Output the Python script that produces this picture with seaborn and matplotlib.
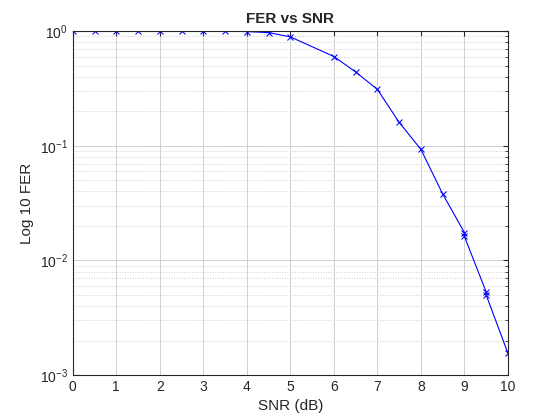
import numpy as np
import pandas as pd
import seaborn as sns
import matplotlib.pyplot as plt

# Data
snr = [0, 0.5, 1, 1.5, 2, 2.5, 3, 3.5, 4, 4.5, 5, 6, 6.5, 7, 7.5, 8, 8.5, 9, 9, 9.5, 9.5, 10]
fer = [1.0, 1.0, 1.0, 1.0, 1.0, 1.0, 1.0, 1.0, 0.99, 0.97, 0.89, 0.60, 0.44, 0.31, 0.16,
       0.093, 0.038, 0.0175, 0.0162, 0.0053, 0.0050, 0.00155]
df = pd.DataFrame({'snr': snr, 'fer': fer})

sns.set_style('white')
plt.rcParams['font.family'] = ['Arial', 'Liberation Sans', 'DejaVu Sans']

fig, ax = plt.subplots(figsize=(5.6, 4.2), dpi=100)
fig.subplots_adjust(left=0.13, right=0.907, top=0.926, bottom=0.107)

sns.lineplot(data=df, x='snr', y='fer', ax=ax, color='blue', marker='x',
             markersize=5, linewidth=0.8, markeredgecolor='blue', sort=False,
             estimator=None)
ax.set_yscale('log')
ax.set_xlim(0, 10)
ax.set_ylim(1e-3, 1)
ax.set_xticks(np.arange(0, 11, 1))
ax.grid(True, which='major', color='#d0d0d0', linewidth=0.7)
ax.grid(True, which='minor', color='#d0d0d0', linestyle=':', linewidth=0.7)
ax.tick_params(which='both', direction='in', top=True, right=True, labelsize=10)
for s in ax.spines.values():
    s.set_color('#262626')
    s.set_linewidth(0.8)
ax.set_xlabel('SNR (dB)', fontsize=11)
ax.set_ylabel('Log 10 FER', fontsize=11)
ax.set_title('FER vs SNR', fontsize=11, fontweight='bold')

fig.savefig('out.png')
